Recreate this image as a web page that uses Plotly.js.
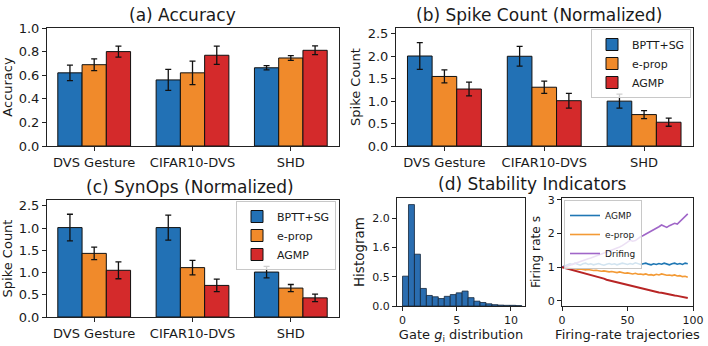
<!DOCTYPE html>
<html><head><meta charset="utf-8">
<script src="https://cdn.plot.ly/plotly-3.0.1.min.js"></script>
<style>html,body{margin:0;padding:0;background:#fff}#chart{width:708px;height:346px}</style>
</head><body><div id="chart"></div>
<script>
// ---------- data ----------
const categories = ["DVS Gesture", "CIFAR10-DVS", "SHD"];
const methods = ["BPTT+SG", "e-prop", "AGMP"];

const accBPTT = [0.62, 0.56, 0.663];
const accBPTTErr = [0.066, 0.089, 0.018];
const accEprop = [0.689, 0.62, 0.746];
const accEpropErr = [0.05, 0.10, 0.02];
const accAGMP = [0.80, 0.769, 0.811];
const accAGMPErr = [0.046, 0.077, 0.037];

const spkBPTT = [2.006, 2.0, 1.0];
const spkBPTTErr = [0.30, 0.22, 0.155];
const spkEprop = [1.55, 1.31, 0.70];
const spkEpropErr = [0.145, 0.135, 0.09];
const spkAGMP = [1.27, 1.01, 0.53];
const spkAGMPErr = [0.155, 0.165, 0.09];

const synBPTT = [2.01, 2.01, 1.01];
const synBPTTErr = [0.30, 0.28, 0.13];
const synEprop = [1.43, 1.11, 0.65];
const synEpropErr = [0.14, 0.165, 0.08];
const synAGMP = [1.05, 0.71, 0.43];
const synAGMPErr = [0.19, 0.14, 0.085];
const synTickVals = [0, 0.5, 1, 1.5, 2, 2.5];
const synTickText = ["0.0", "0.5", "1.0", "1.5", "1.0", "2.5"];

const gateCenters = [0.275, 0.825, 1.375, 1.925, 2.475, 3.025, 3.575, 4.125, 4.675, 5.225,
  5.775, 6.325, 6.875, 7.425, 7.975, 8.525, 9.075, 9.625, 10.175, 10.725];
const gateHist = [0.68, 2.31, 1.18, 0.40, 0.24, 0.21, 0.17, 0.22, 0.26, 0.30,
  0.34, 0.19, 0.11, 0.08, 0.05, 0.03, 0.02, 0.015, 0.015, 0.008];
const gateBinWidth = 0.55;
const histTickVals = [0, 0.667, 1.333, 2.0];
const histTickText = ["0.0", "0.5", "1.6", "2.0"];

const steps = [0, 2, 4, 6, 8, 10, 12, 14, 16, 18, 20, 22, 24, 26, 28, 30, 32, 34, 36, 38, 40,
  42, 44, 46, 48, 50, 52, 54, 56, 58, 60, 62, 64, 66, 68, 70, 72, 74, 76, 78, 80,
  82, 84, 86, 88, 90, 92, 94, 96];
const rateAGMP = [1.0, 1.03, 1.07, 1.10, 1.08, 1.12, 1.09, 1.06, 1.10, 1.12, 1.08, 1.10, 1.07,
  1.09, 1.11, 1.08, 1.06, 1.09, 1.11, 1.08, 1.10, 1.07, 1.09, 1.12, 1.10, 1.08, 1.11, 1.09,
  1.13, 1.10, 1.08, 1.10, 1.12, 1.09, 1.07, 1.10, 1.08, 1.11, 1.09, 1.12, 1.09, 1.07, 1.10,
  1.12, 1.09, 1.11, 1.08, 1.12, 1.10];
const rateEprop = [1.0, 0.99, 0.98, 0.96, 0.97, 0.95, 0.94, 0.95, 0.93, 0.92, 0.93, 0.91, 0.90,
  0.91, 0.89, 0.88, 0.89, 0.87, 0.86, 0.87, 0.85, 0.84, 0.86, 0.83, 0.82, 0.83, 0.81, 0.80,
  0.82, 0.79, 0.80, 0.78, 0.80, 0.77, 0.78, 0.76, 0.79, 0.77, 0.80, 0.78, 0.76, 0.77, 0.75,
  0.77, 0.74, 0.75, 0.72, 0.73, 0.70];
const rateDrift = [1.0, 1.01, 1.03, 1.06, 1.09, 1.10, 1.14, 1.16, 1.20, 1.22, 1.25, 1.27, 1.30,
  1.33, 1.36, 1.39, 1.42, 1.44, 1.47, 1.49, 1.52, 1.56, 1.60, 1.64, 1.68, 1.74, 1.80, 1.77,
  1.79, 1.85, 1.90, 1.94, 1.98, 2.02, 2.06, 2.11, 2.15, 2.20, 2.25, 2.21, 2.18, 2.23, 2.27,
  2.30, 2.28, 2.35, 2.42, 2.50, 2.58];
const rateDecay = [1.0, 0.98, 0.96, 0.93, 0.91, 0.89, 0.87, 0.85, 0.83, 0.81, 0.79, 0.77, 0.75,
  0.73, 0.70, 0.68, 0.66, 0.63, 0.61, 0.59, 0.57, 0.55, 0.53, 0.51, 0.49, 0.47, 0.45, 0.43,
  0.41, 0.40, 0.38, 0.36, 0.34, 0.32, 0.30, 0.29, 0.27, 0.25, 0.24, 0.22, 0.21, 0.19, 0.18,
  0.16, 0.15, 0.13, 0.12, 0.10, 0.09];
const lineNames = ["AGMP", "e-prop", "Drifing"];

// ---------- styles ----------
const W = 708, H = 346;
const barColors = ["#2271b5", "#f08a2b", "#d42a2b"];
const lineColors = ["#1f77b4", "#f39a35", "#a066c8", "#b82525"];
const FONT = "DejaVu Sans, sans-serif";
const TXT = "#1a1a1a";
const px = (a, b) => [a / W, b / W];
const py = (top, bottom) => [1 - bottom / H, 1 - top / H];

function barTraces(vals, errs, xa, ya, legend, show) {
  return vals.map((v, i) => ({
    type: "bar", x: categories, y: v, name: methods[i],
    xaxis: xa, yaxis: ya, legend: legend, showlegend: show,
    marker: { color: barColors[i], line: { color: "#111", width: 1 } },
    error_y: { type: "data", array: errs[i], visible: true, color: "#111", thickness: 1.3, width: 3 }
  }));
}

const traces = [
  ...barTraces([accBPTT, accEprop, accAGMP], [accBPTTErr, accEpropErr, accAGMPErr], "x", "y", "legend", false),
  ...barTraces([spkBPTT, spkEprop, spkAGMP], [spkBPTTErr, spkEpropErr, spkAGMPErr], "x2", "y2", "legend", true),
  ...barTraces([synBPTT, synEprop, synAGMP], [synBPTTErr, synEpropErr, synAGMPErr], "x3", "y3", "legend2", true),
  {
    type: "bar", x: gateCenters, y: gateHist, width: gateBinWidth, xaxis: "x4", yaxis: "y4",
    showlegend: false, marker: { color: "#2a6db0", line: { color: "#14263a", width: 0.8 } }
  },
  { type: "scatter", mode: "lines", x: steps, y: rateAGMP, name: lineNames[0], xaxis: "x5", yaxis: "y5",
    legend: "legend3", line: { color: lineColors[0], width: 1.6 } },
  { type: "scatter", mode: "lines", x: steps, y: rateEprop, name: lineNames[1], xaxis: "x5", yaxis: "y5",
    legend: "legend3", line: { color: lineColors[1], width: 1.6 } },
  { type: "scatter", mode: "lines", x: steps, y: rateDrift, name: lineNames[2], xaxis: "x5", yaxis: "y5",
    legend: "legend3", line: { color: lineColors[2], width: 1.6 } },
  { type: "scatter", mode: "lines", x: steps, y: rateDecay, name: "decay", xaxis: "x5", yaxis: "y5",
    showlegend: false, line: { color: lineColors[3], width: 2 } }
];

function axis(extra) {
  return Object.assign({
    showline: true, mirror: true, linecolor: "#222", linewidth: 1,
    ticks: "outside", ticklen: 4, tickcolor: "#222", tickwidth: 1,
    showgrid: false, zeroline: false, tickfont: { family: FONT, size: 13, color: TXT },
    fixedrange: true
  }, extra);
}
function ttl(text, size, standoff) {
  return { text: text, font: { family: FONT, size: size, color: TXT }, standoff: standoff };
}
function legendBox(x, y, size, anchor) {
  return {
    x: x, y: y, xanchor: anchor, yanchor: "top", xref: "paper", yref: "paper",
    bgcolor: "rgba(255,255,255,0.8)", bordercolor: "#c8c8c8", borderwidth: 1,
    font: { family: FONT, size: size, color: TXT }, traceorder: "normal"
  };
}
const small = { family: FONT, size: 11, color: TXT };

const layout = {
  width: W, height: H, margin: { l: 0, r: 0, t: 0, b: 0 },
  paper_bgcolor: "#fff", plot_bgcolor: "#fff",
  barmode: "group", bargap: 0.26, bargroupgap: 0,
  font: { family: FONT, color: TXT },
  xaxis: axis({ domain: px(47, 339), anchor: "y", range: [-0.48, 2.49] }),
  yaxis: axis({ domain: py(28, 146), anchor: "x", range: [0, 1.0], dtick: 0.2, tickformat: ".1f",
    title: ttl("Accuracy", 13, 4) }),
  xaxis2: axis({ domain: px(396, 693), anchor: "y2", range: [-0.485, 2.49] }),
  yaxis2: axis({ domain: py(28, 146), anchor: "x2", range: [0, 2.63], dtick: 0.5, tickformat: ".1f",
    title: ttl("Spike Count", 13, 4) }),
  xaxis3: axis({ domain: px(47, 339), anchor: "y3", range: [-0.48, 2.49] }),
  yaxis3: axis({ domain: py(200, 317), anchor: "x3", range: [0, 2.63], tickmode: "array",
    tickvals: synTickVals, ticktext: synTickText, title: ttl("Spike Count", 13, 4) }),
  xaxis4: axis({ domain: px(397, 525), anchor: "y4", range: [-0.51, 11.3], tickvals: [0, 5, 10],
    tickfont: small, title: ttl("Gate <i>g</i><sub>i</sub> distribution", 13, 2) }),
  yaxis4: axis({ domain: py(198, 306), anchor: "x4", range: [0, 2.46], tickmode: "array",
    tickvals: histTickVals, ticktext: histTickText, tickfont: small,
    title: ttl("Histogram", 13.5, 4) }),
  xaxis5: axis({ domain: px(562, 693), anchor: "y5", range: [0, 100], tickvals: [0, 50, 100],
    tickfont: small, title: ttl("Firing-rate trajectories", 13, 2) }),
  yaxis5: axis({ domain: py(198, 306), anchor: "x5", range: [-0.15, 3.05], tickvals: [0, 1, 2, 3],
    tickfont: small, title: ttl("Firing rate s", 12.2, 4) }),
  legend: legendBox(691 / W, 1 - 29 / H, 11, "right"),
  legend2: legendBox(336 / W, 1 - 201 / H, 11, "right"),
  legend3: legendBox(564 / W, 1 - 200 / H, 9, "left"),
  annotations: [
    ["(a) Accuracy", 183, 15], ["(b) Spike Count (Normalized)", 539, 15],
    ["(c) SynOps (Normalized)", 190, 187], ["(d) Stability Indicators", 532, 184]
  ].map(([t, x, y]) => ({
    text: t, x: x / W, y: 1 - y / H, xref: "paper", yref: "paper", xanchor: "center", yanchor: "middle",
    showarrow: false, font: { family: FONT, size: 17, color: TXT }
  }))
};

Plotly.newPlot("chart", traces, layout, { staticPlot: true, displayModeBar: false });
</script></body></html>
